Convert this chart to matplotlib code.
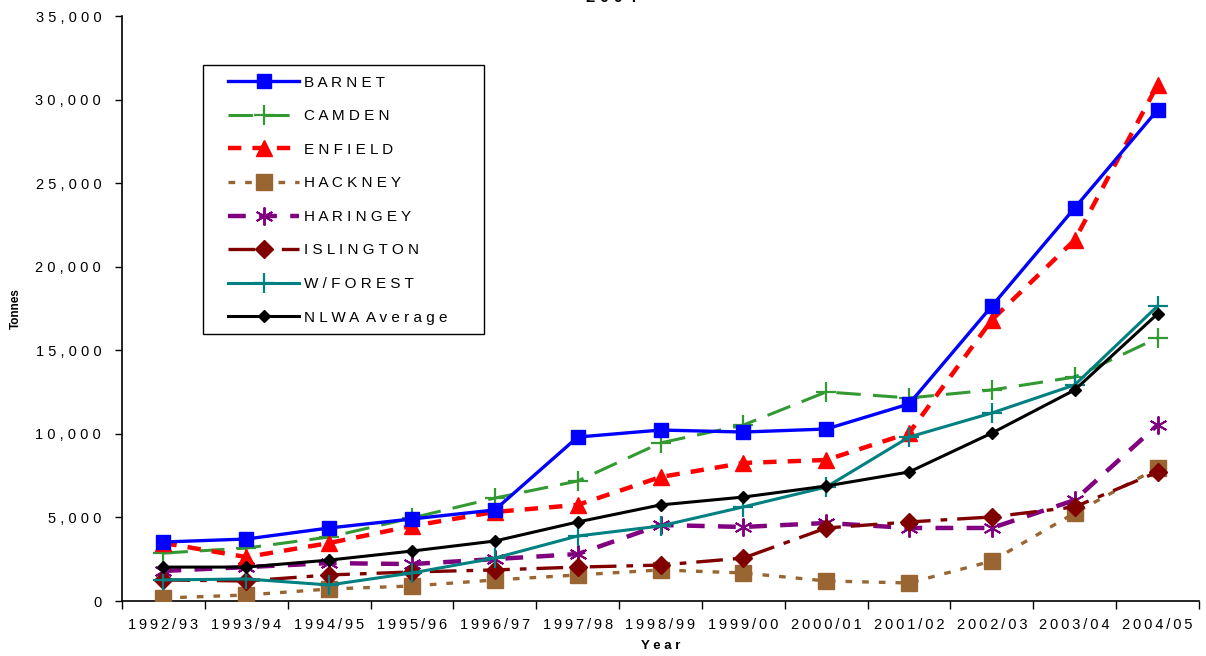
import matplotlib.pyplot as plt
from matplotlib.patches import Rectangle
from matplotlib.ticker import FixedLocator, NullFormatter

plt.rcParams['font.family'] = ['Liberation Sans', 'DejaVu Sans']

# Financial years on the x axis
years = ['1992/93', '1993/94', '1994/95', '1995/96', '1996/97', '1997/98', '1998/99',
         '1999/00', '2000/01', '2001/02', '2002/03', '2003/04', '2004/05']

# Tonnes per borough
barnet = [3530, 3710, 4370, 4910, 5450, 9810, 10230, 10110, 10290, 11790, 17650, 23520, 29380]
camden = [2870, 3170, 3830, 4970, 6160, 7180, 9460, 10530, 12510, 12150, 12630, 13400, 15740]
enfield = [3470, 2630, 3470, 4490, 5330, 5750, 7420, 8260, 8440, 10050, 16820, 21600, 30880]
hackney = [180, 360, 720, 900, 1260, 1560, 1860, 1680, 1200, 1080, 2390, 5270, 7960]
haringey = [1800, 2030, 2270, 2210, 2510, 2810, 4550, 4430, 4670, 4370, 4370, 6040, 10530]
islington = [1260, 1200, 1560, 1740, 1860, 2030, 2150, 2570, 4370, 4730, 5030, 5630, 7720]
wforest = [1260, 1320, 960, 1680, 2570, 3890, 4490, 5630, 6820, 9810, 11250, 12930, 17650]
nlwa_avg = [2030, 2030, 2450, 2990, 3590, 4730, 5750, 6220, 6880, 7720, 10050, 12630, 17180]


def spaced(s, sep=' '):
    return sep.join(s)


fig = plt.figure(figsize=(12.06, 6.56), dpi=100)
ax = fig.add_axes([0.1012, 0.0838, 0.893, 0.8918])
x = range(len(years))

ax.plot(x, barnet, color='#0000ff', lw=2.4, marker='s', ms=10, label=spaced('BARNET'), zorder=6)
ax.plot(x, camden, color='#339933', lw=2.2, dashes=(8, 4), marker='+', ms=15, mew=1.6,
        label=spaced('CAMDEN'), zorder=5)
ax.plot(x, enfield, color='#ff0000', lw=3.2, dashes=(3, 2.5), marker='^', ms=11,
        label=spaced('ENFIELD'), zorder=5)
ax.plot(x, hackney, color='#996633', lw=2.4, dashes=(2, 3), marker='s', ms=11,
        label=spaced('HACKNEY'), zorder=4)
ax.plot(x, haringey, color='#800080', lw=3.2, dashes=(4, 3), marker=(6, 2, 0), ms=13, mew=1.4,
        label=spaced('HARINGEY'), zorder=4)
ax.plot(x, islington, color='#800000', lw=2.4, dashes=(8, 3, 2, 3), marker='D', ms=9,
        label=spaced('ISLINGTON'), zorder=4)
ax.plot(x, wforest, color='#008080', lw=2.2, marker='+', ms=15, mew=1.6,
        label=spaced('W/FOREST'), zorder=5)
ax.plot(x, nlwa_avg, color='black', lw=2.2, marker='D', ms=6,
        label='N L W A  A v e r a g e', zorder=6)

ax.set_xlim(-0.5, len(years) - 0.5)
ax.set_ylim(0, 35000)

yticks = list(range(0, 35001, 5000))
ax.set_yticks(yticks)
ax.set_yticklabels([spaced(f'{v:,}') for v in yticks], fontsize=10.5)
ax.tick_params(axis='y', direction='out', length=5, width=1, pad=10)

ax.set_xticks(list(x))
ax.set_xticklabels([spaced(y, '\u2009') for y in years], fontsize=10.5)
ax.tick_params(axis='x', which='major', length=0, pad=12)
ax.xaxis.set_minor_locator(FixedLocator([i - 0.5 for i in range(len(years) + 1)]))
ax.xaxis.set_minor_formatter(NullFormatter())
ax.tick_params(axis='x', which='minor', direction='out', length=6, width=1)

for side in ('top', 'right'):
    ax.spines[side].set_visible(False)
for side in ('left', 'bottom'):
    ax.spines[side].set_linewidth(1.2)

ax.set_ylabel('Tonnes', fontsize=8.5, fontweight='bold', labelpad=10)
ax.set_xlabel('Y e a r', fontsize=9.5, fontweight='bold', labelpad=6)

# legend without its own frame, boxed by a plain rectangle
ax.legend(loc='upper left', bbox_to_anchor=(0.091, 0.911), fontsize=11,
          handlelength=4.7, handletextpad=0.3, labelspacing=1.28,
          borderpad=0, frameon=False)
ax.add_patch(Rectangle((0.0752, 0.4564), 0.2609, 0.4598, transform=ax.transAxes,
                       facecolor='white', edgecolor='black', lw=1.0, zorder=7))
ax.get_legend().set_zorder(8)

fig.text(0.507, 0.992, '2 0 0 4', ha='center', va='bottom', fontsize=12, fontweight='bold')

fig.savefig('out.png', dpi=100)
